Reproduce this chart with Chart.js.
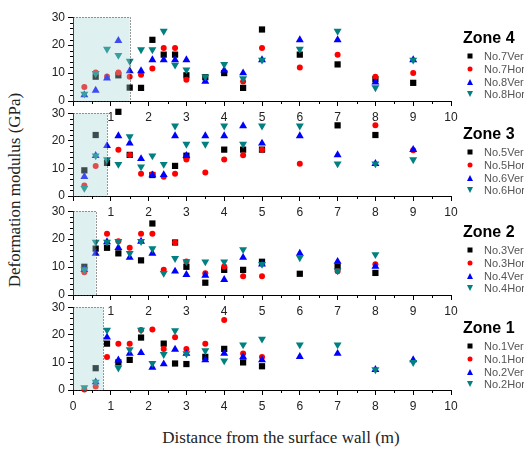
<!DOCTYPE html>
<html lang="en">
<head>
<meta charset="UTF-8">
<title>Deformation modulus by zone</title>
<script src="https://cdn.jsdelivr.net/npm/chart.js@4.4.0/dist/chart.umd.min.js"></script>
<style>
  html, body { margin: 0; padding: 0; background: #fff; }
  #wrap { position: relative; width: 524px; height: 450px; overflow: hidden; font-family: 'Liberation Sans', Arial, sans-serif; }
  #wrap canvas { position: absolute; left: 0; }
  .zone { position: absolute; left: 463px; font-weight: bold; font-size: 16px; line-height: 16px; color: #000; white-space: nowrap; }
  .item { position: absolute; left: 465px; font-size: 11px; line-height: 12px; height: 12px; color: #555; white-space: nowrap; }
  .mk { display: inline-block; width: 10px; height: 12px; margin-right: 9px; position: relative; vertical-align: top; }
  .mk i { position: absolute; left: 50%; top: 50%; transform: translate(-50%, -50%); display: block; }
  .sq i { width: 5px; height: 5px; background: #000; }
  .ci i { width: 5px; height: 5px; border-radius: 50%; background: #f00; }
  .up i { width: 0; height: 0; border-left: 3.5px solid transparent; border-right: 3.5px solid transparent; border-bottom: 6px solid #00f; }
  .dn i { width: 0; height: 0; border-left: 3.5px solid transparent; border-right: 3.5px solid transparent; border-top: 6px solid #008080; }
  .ytitle { position: absolute; left: -135px; top: 180px; width: 300px; height: 20px; line-height: 20px; text-align: center;
            font-family: 'Liberation Serif', 'Times New Roman', serif; font-size: 17px; color: #222; transform: rotate(-90deg); }
  .xtitle { position: absolute; left: 81px; top: 428px; width: 400px; height: 20px; line-height: 20px; text-align: center;
            font-family: 'Liberation Serif', 'Times New Roman', serif; font-size: 17px; color: #222; }
</style>
</head>
<body>
<div id="wrap">
  <div class="ytitle">Deformation modulus (GPa)</div>
  <div class="xtitle">Distance from the surface wall (m)</div>
</div>

<script>
// distances (m) shared by all series, null = no reading at that distance
const distances = [0.3, 0.6, 0.9, 1.2, 1.5, 1.8, 2.1, 2.4, 2.7, 3, 3.5, 4, 4.5, 5, 6, 7, 8, 9];

// Zone 4
const z4No7Ver = [null, 8.7, null, 9.2, 4.8, 4.7, 21.9, 16.6, 16.6, 9.2, 8.5, 10.0, 4.7, 25.6, 16.6, 13.1, 7.8, 6.5];
const z4No7Hor = [5.0, 10.2, 8.8, 10.2, 8.7, 9.4, 11.6, 19.0, 19.0, 7.6, null, null, 7.0, 19.0, 12.0, 16.6, 8.7, 10.0];
const z4No8Ver = [2.2, 3.8, 8.2, 21.6, 10.8, 10.8, 14.7, 14.7, 14.7, 14.7, 7.0, 11.0, 10.0, 14.7, 21.9, 21.9, 6.7, 14.7];
const z4No8Hor = [2.5, 9.9, 18.6, 16.4, 14.3, 18.4, 18.4, 25.0, 12.9, 11.2, 8.7, 13.1, 8.0, 14.7, 18.6, 25.0, 4.8, 14.7];
// Zone 3
const z3No5Ver = [9.3, 22.1, 12.0, 30.5, 14.9, null, 7.6, null, 10.9, 14.6, null, 16.8, 16.8, 16.8, null, 25.6, 22.1, null];
const z3No5Hor = [3.8, 10.9, null, 16.8, 14.9, 8.1, 7.9, 7.0, 8.1, 13.2, 8.5, 13.2, 14.8, 16.8, 11.7, null, 25.6, 16.6];
const z3No6Ver = [7.0, 14.6, 18.2, 21.8, 19.1, 13.5, 7.6, 7.7, 21.8, 14.6, 21.8, 21.8, 25.4, 19.1, 21.8, 14.9, 11.7, 16.8];
const z3No6Hor = [2.8, 14.6, 13.2, 11.5, 21.5, 10.6, 14.6, 11.5, 25.4, 18.8, 18.8, 25.4, 18.8, 25.4, 25.4, 11.7, 11.7, 13.2];
// Zone 2
const z2No3Ver = [10.1, 16.6, 16.9, 14.9, null, 12.4, 25.6, null, 18.8, 10.1, 4.4, 9.0, 9.0, 11.9, 7.6, 10.2, 7.9, null];
const z2No3Hor = [8.1, null, 21.9, 19.2, 16.9, 21.9, 21.9, 9.0, 18.8, 12.0, 7.8, 10.2, 6.7, 6.7, null, 8.5, 11.0, null];
const z2No4Ver = [9.1, 14.9, 19.0, 16.9, 13.4, 19.2, 14.9, null, 8.5, 7.3, 7.0, 5.5, 13.4, 11.0, 14.9, 12.0, 10.2, null];
const z2No4Hor = [9.1, 19.0, 19.0, 19.2, 14.9, 19.2, 16.6, 7.8, 13.1, 12.0, 11.9, 11.9, 16.3, 11.0, 13.4, 8.7, 14.5, null];
// Zone 1
const z1No1Ver = [null, 7.9, 16.8, 10.0, 10.9, 19.0, null, 16.8, 9.6, 9.4, 12.0, 14.9, 10.0, 8.6, null, null, null, null];
const z1No1Hor = [0.2, 1.3, 12.0, 16.8, 16.8, 21.7, 21.9, 14.9, 19.1, 14.9, 16.8, 25.4, 13.2, 12.0, null, null, null, null];
const z1No2Ver = [null, 2.9, 19.1, 10.8, 13.2, 13.5, 8.2, 9.4, 14.7, 13.2, 10.9, 13.2, 12.0, 10.9, 12.1, 13.2, 7.4, 10.9];
const z1No2Hor = [0.9, 2.9, 21.7, 8.0, 14.7, 21.7, 9.7, 12.9, 21.5, 13.2, 14.3, 10.6, 16.4, 18.5, 16.4, 16.4, 7.4, 10.0];

const zoneNames = ['Zone 4', 'Zone 3', 'Zone 2', 'Zone 1'];
const seriesNames = [
    ['No.7Ver', 'No.7Hor', 'No.8Ver', 'No.8Hor'],
    ['No.5Ver', 'No.5Hor', 'No.6Ver', 'No.6Hor'],
    ['No.3Ver', 'No.3Hor', 'No.4Ver', 'No.4Hor'],
    ['No.1Ver', 'No.1Hor', 'No.2Ver', 'No.2Hor']
];
const zoneValues = [
    [z4No7Ver, z4No7Hor, z4No8Ver, z4No8Hor],
    [z3No5Ver, z3No5Hor, z3No6Ver, z3No6Hor],
    [z2No3Ver, z2No3Hor, z2No4Ver, z2No4Hor],
    [z1No1Ver, z1No1Hor, z1No2Ver, z1No2Hor]
];
const shadeEnds = [1.5, 0.9, 0.6, 0.8];   // shaded near-wall zone (m)
const yTickValues = [0, 10, 20, 30];
const xTickValues = [0, 1, 2, 3, 4, 5, 6, 7, 8, 9, 10];

// layout of the four stacked panels (page pixels)
const panelTops = [15, 111, 209, 305];
const panelBottoms = [101, 196, 295, 390];
const padTop = 8, xAxisH = 26, yAxisW = 73, plotRight = 451;

const markers = [
    { style: 'rect', color: '#000000', radius: 4.4, rot: 0, css: 'sq' },
    { style: 'circle', color: '#ff0000', radius: 3, rot: 0, css: 'ci' },
    { style: 'triangle', color: '#0000ff', radius: 4.6, rot: 0, css: 'up' },
    { style: 'triangle', color: '#008080', radius: 4.6, rot: 180, css: 'dn' }
];

Chart.defaults.font.family = "'Liberation Sans', Arial, sans-serif";

// light cyan box over the near-wall zone, drawn on top of the points
const shadePlugin = {
    id: 'shade',
    afterDatasetsDraw(chart, args, opts) {
        const { ctx, scales: { x, y } } = chart;
        const x0 = x.getPixelForValue(0), x1 = x.getPixelForValue(opts.end);
        const y0 = y.getPixelForValue(30), y1 = y.getPixelForValue(0);
        ctx.save();
        ctx.fillStyle = 'rgba(167, 213, 213, 0.36)';
        ctx.fillRect(x0, y0, x1 - x0, y1 - y0);
        ctx.setLineDash([1, 2]);
        ctx.strokeStyle = '#333';
        ctx.lineWidth = 1;
        ctx.strokeRect(Math.round(x0) + 0.5, Math.round(y0) + 0.5, Math.round(x1 - x0), Math.round(y1 - y0));
        ctx.restore();
    }
};

// short minor ticks (0.5 m on x, 2 GPa on y)
const minorTicks = {
    id: 'minorTicks',
    afterDraw(chart) {
        const { ctx, scales: { x, y }, chartArea } = chart;
        ctx.save();
        ctx.strokeStyle = '#000';
        ctx.lineWidth = 1;
        ctx.beginPath();
        for (let v = 0.5; v < 10; v += 1) {
            const px = Math.round(x.getPixelForValue(v)) + 0.5;
            ctx.moveTo(px, chartArea.bottom);
            ctx.lineTo(px, chartArea.bottom + 3);
        }
        for (let v = 2; v < 30; v += 2) {
            if (v % 10 === 0) continue;
            const py = Math.round(y.getPixelForValue(v)) + 0.5;
            ctx.moveTo(chartArea.left, py);
            ctx.lineTo(chartArea.left - 3, py);
        }
        ctx.stroke();
        ctx.restore();
    }
};

const wrap = document.getElementById('wrap');

zoneNames.forEach((zone, p) => {
    const plotH = panelBottoms[p] - panelTops[p];
    const canvas = document.createElement('canvas');
    canvas.width = 524;
    canvas.height = padTop + plotH + xAxisH;
    canvas.style.top = (panelTops[p] - padTop) + 'px';
    wrap.appendChild(canvas);

    const datasets = zoneValues[p].map((vals, s) => ({
        label: seriesNames[p][s],
        data: distances.map((d, i) => ({ x: d, y: vals[i] })).filter(pt => pt.y !== null),
        pointStyle: markers[s].style,
        pointRotation: markers[s].rot,
        pointRadius: markers[s].radius,
        pointBorderWidth: 0,
        backgroundColor: markers[s].color,
        borderColor: markers[s].color,
        clip: false,
        order: 3 - s
    }));

    new Chart(canvas, {
        type: 'scatter',
        data: { datasets },
        options: {
            responsive: false,
            animation: false,
            events: [],
            layout: { padding: { top: padTop, left: 0, right: 524 - plotRight, bottom: 0 } },
            plugins: {
                legend: { display: false },
                tooltip: { enabled: false },
                shade: { end: shadeEnds[p] }
            },
            scales: {
                x: {
                    type: 'linear',
                    min: 0, max: 10,
                    afterFit: s => { s.height = xAxisH; },
                    afterBuildTicks: s => { s.ticks = xTickValues.map(v => ({ value: v })); },
                    border: { display: true, color: '#000', width: 1 },
                    grid: { drawOnChartArea: false, drawTicks: true, tickLength: 5, color: '#000' },
                    ticks: {
                        padding: 4,
                        maxRotation: 0,
                        color: '#222',
                        font: { size: 12 },
                        // the 0 label only shows under the bottom panel
                        callback: v => (v === 0 && p < 3) ? '' : v
                    }
                },
                y: {
                    type: 'linear',
                    min: 0, max: 30,
                    afterFit: s => { s.width = yAxisW; },
                    afterBuildTicks: s => { s.ticks = yTickValues.map(v => ({ value: v })); },
                    border: { display: true, color: '#000', width: 1 },
                    grid: { drawOnChartArea: false, drawTicks: true, tickLength: 5, color: '#000' },
                    ticks: { padding: 3, color: '#222', font: { size: 12 } }
                }
            }
        },
        plugins: [shadePlugin, minorTicks]
    });

    // zone title + legend entries
    const title = document.createElement('div');
    title.className = 'zone';
    title.textContent = zone;
    title.style.top = (panelTops[p] + 15) + 'px';
    wrap.appendChild(title);

    seriesNames[p].forEach((name, s) => {
        const item = document.createElement('div');
        item.className = 'item';
        item.style.top = (panelTops[p] + 35 + s * 12.8) + 'px';
        item.innerHTML = '<span class="mk ' + markers[s].css + '"><i></i></span>' + name;
        wrap.appendChild(item);
    });
});
</script>
</body>
</html>
